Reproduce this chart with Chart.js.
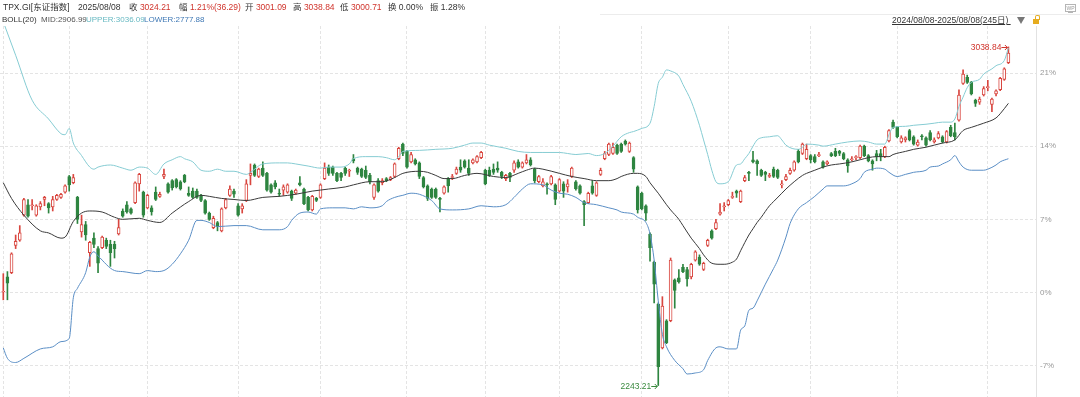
<!DOCTYPE html>
<html>
<head>
<meta charset="utf-8">
<title>TPX.GI BOLL(20)</title>
<script src="https://cdn.jsdelivr.net/npm/chart.js@4.4.1/dist/chart.umd.min.js"></script>
<style>
  body { margin: 0; background: #fff; }
  #wrap { position: relative; width: 1080px; height: 397px; overflow: hidden;
          font-family: "Liberation Sans", "Noto Sans CJK SC", sans-serif; }
  #c { position: absolute; left: 0; top: 0; }
  .t { position: absolute; white-space: nowrap; line-height: 1; font-size: 8.5px; color: #333; }
  .s { font-size: 8px; }
  .r { color: #d0342c; }
  .hr { position: absolute; left: 600px; top: 14px; width: 480px; height: 1px; background: #ececec; }
  .tri { position: absolute; left: 1017px; top: 17px; width: 0; height: 0;
         border-left: 4.5px solid transparent; border-right: 4.5px solid transparent; border-top: 7px solid #777; }
  .lockBody { position: absolute; left: 1033px; top: 19px; width: 6px; height: 5px; background: #e6ac1f; }
  .lockArc { position: absolute; left: 1035px; top: 15px; width: 3px; height: 4px;
             border: 1.2px solid #e6ac1f; border-bottom: none; border-radius: 2px 2px 0 0; }
  .wp { position: absolute; left: 1065px; top: 4px; width: 9px; height: 6px; border: 1px solid #b5b5b5;
        font-size: 5px; line-height: 6px; text-align: center; color: #999; }
  .wpStand { position: absolute; left: 1068px; top: 12px; width: 5px; height: 1px; background: #b5b5b5; }
</style>
</head>
<body>
<div id="wrap">
  <canvas id="c" width="1080" height="397"></canvas>

  <div class="t" style="left:3px;top:2.5px">TPX.GI[东证指数]</div>
  <div class="t" style="left:78px;top:2.5px">2025/08/08</div>
  <div class="t" style="left:129px;top:2.5px">收 <span class="r">3024.21</span></div>
  <div class="t" style="left:179px;top:2.5px">幅 <span class="r">1.21%(36.29)</span></div>
  <div class="t" style="left:245px;top:2.5px">开 <span class="r">3001.09</span></div>
  <div class="t" style="left:293px;top:2.5px">高 <span class="r">3038.84</span></div>
  <div class="t" style="left:340px;top:2.5px">低 <span class="r">3000.71</span></div>
  <div class="t" style="left:388px;top:2.5px">换 0.00%</div>
  <div class="t" style="left:430px;top:2.5px">振 1.28%</div>

  <div class="t s" style="left:2px;top:15.5px">BOLL(20)</div>
  <div class="t s" style="left:41px;top:15.5px;color:#555">MID:2906.99</div>
  <div class="t s" style="left:86px;top:15.5px;color:#67b9c2">UPPER:3036.09</div>
  <div class="t s" style="left:144px;top:15.5px;color:#3f78b5">LOWER:2777.88</div>

  <div class="hr"></div>
  <div class="t" style="left:892px;top:16px;text-decoration:underline">2024/08/08-2025/08/08(245日)&nbsp;</div>
  <div class="tri"></div>
  <div class="lockArc"></div>
  <div class="lockBody"></div>
  <div class="wp">WP</div>
  <div class="wpStand"></div>
</div>

<script>
// daily candles, % change vs. base (0% line), 2024/08/08 .. 2025/08/08
const openPct = [
  0.0, 1.5, 1.9, 4.5, 5.0, 7.4, 8.4, 8.3, 7.4, 8.2,
  8.9, 8.5, 8.2, 8.9, 9.1, 9.6, 11.1, 10.5, 9.1, 5.8,
  6.5, 3.8, 5.2, 4.2, 4.3, 5.0, 4.6, 4.6, 5.6, 7.8,
  8.4, 8.0, 8.6, 10.4, 9.6, 8.1, 8.1, 9.6, 9.2, 11.1,
  10.4, 10.7, 10.8, 10.6, 11.2, 9.5, 9.7, 9.7, 9.3, 8.8,
  7.6, 6.2, 6.7, 5.9, 8.1, 9.3, 9.7, 8.3, 8.0, 8.8,
  11.2, 12.2, 11.1, 11.9, 11.4, 10.3, 10.5, 9.5, 9.8, 9.6,
  9.7, 9.5, 10.5, 9.9, 9.1, 7.9, 9.0, 9.1, 10.9, 12.0,
  12.0, 11.4, 11.4, 11.9, 11.6, 12.8, 11.9, 11.8, 11.7, 11.2,
  9.1, 10.7, 10.5, 10.9, 10.8, 11.1, 12.8, 14.2, 13.5, 12.5,
  12.7, 12.4, 11.0, 10.2, 9.9, 9.9, 9.0, 9.5, 10.9, 11.0,
  11.4, 12.0, 12.6, 11.9, 12.4, 12.5, 12.9, 11.7, 11.7, 11.8,
  11.9, 11.5, 10.9, 11.4, 11.7, 12.5, 12.0, 12.4, 12.7, 11.8,
  10.6, 10.2, 10.4, 10.4, 10.3, 9.7, 10.4, 10.1, 11.1, 10.6,
  10.2, 8.7, 8.6, 10.2, 9.3, 11.3, 12.8, 13.2, 13.3, 14.1,
  14.2, 14.5, 13.5, 12.9, 10.1, 9.5, 8.3, 5.6, 2.9, -1.1,
  -5.3, -2.7, -2.7, 1.2, 1.4, 2.4, 2.2, 1.5, 3.1, 3.4,
  2.2, 4.5, 5.9, 6.1, 7.5, 8.2, 8.4, 9.1, 9.7, 8.7,
  10.7, 11.5, 12.7, 12.6, 11.7, 11.5, 11.1, 11.8, 11.7, 10.3,
  10.8, 11.4, 11.7, 13.5, 13.3, 12.8, 13.1, 13.0, 13.1, 12.5,
  12.3, 13.3, 13.5, 13.5, 13.3, 12.7, 12.7, 12.9, 12.9, 14.0,
  13.1, 12.6, 13.3, 13.3, 13.0, 14.5, 16.3, 15.8, 14.4, 14.6,
  15.5, 14.9, 14.1, 15.0, 14.8, 15.3, 14.4, 14.8, 14.9, 14.4,
  15.8, 15.3, 16.5, 20.0, 20.6, 20.1, 18.4, 18.2, 18.9, 19.6,
  18.0, 19.0, 19.4, 20.4, 22.0
];
const closePct = [
  0.1, 0.9, 3.7, 4.9, 5.7, 8.9, 7.3, 8.4, 8.3, 8.5,
  9.1, 8.1, 8.9, 9.3, 9.4, 10.2, 10.3, 11.0, 7.0, 6.5,
  5.5, 4.8, 4.6, 2.8, 5.3, 4.4, 3.8, 4.2, 6.2, 7.3,
  7.7, 7.6, 10.5, 11.3, 7.4, 9.3, 7.7, 8.9, 9.4, 11.3,
  9.6, 10.0, 10.1, 9.9, 10.6, 9.3, 9.1, 9.1, 8.8, 7.6,
  7.0, 7.1, 6.3, 8.0, 8.9, 9.9, 9.4, 7.4, 8.3, 10.4,
  11.4, 11.2, 11.8, 11.2, 9.8, 9.6, 10.1, 9.4, 10.1, 10.3,
  9.0, 9.8, 10.3, 8.5, 7.9, 9.2, 8.8, 10.3, 11.9, 11.4,
  11.4, 10.7, 11.0, 11.4, 11.7, 12.6, 11.5, 11.1, 11.0, 10.6,
  10.3, 9.7, 10.7, 10.7, 11.0, 12.3, 13.8, 13.3, 12.0, 13.2,
  12.3, 11.1, 10.1, 9.0, 9.1, 9.1, 8.9, 10.1, 10.2, 11.1,
  11.8, 11.7, 12.0, 11.4, 12.7, 13.0, 13.4, 10.4, 11.2, 11.5,
  11.7, 11.1, 11.2, 11.0, 12.4, 12.0, 12.4, 12.7, 12.2, 10.7,
  11.1, 10.6, 10.3, 11.1, 8.9, 10.8, 9.7, 10.4, 11.9, 9.9,
  9.5, 8.4, 9.5, 9.5, 10.5, 11.7, 13.3, 14.2, 13.9, 13.3,
  13.5, 14.2, 14.3, 11.8, 7.9, 8.0, 7.6, 4.3, 0.8, -7.1,
  -1.3, -4.8, 3.1, 0.2, 1.0, 2.0, 1.3, 2.7, 3.9, 2.7,
  2.8, 5.0, 5.2, 6.7, 7.7, 8.3, 8.8, 9.2, 9.5, 9.7,
  11.0, 11.4, 12.5, 12.3, 11.2, 11.3, 11.2, 11.1, 11.0, 10.4,
  11.1, 11.7, 12.5, 12.5, 14.2, 13.7, 12.7, 12.5, 13.2, 12.0,
  12.5, 13.1, 13.1, 13.3, 12.8, 12.1, 12.8, 13.0, 14.0, 13.1,
  12.6, 12.3, 13.0, 13.0, 13.9, 15.5, 15.8, 14.9, 14.8, 14.8,
  14.6, 14.2, 14.4, 14.9, 14.1, 14.6, 14.6, 15.2, 14.4, 15.4,
  15.0, 14.9, 18.9, 20.9, 20.1, 19.0, 18.1, 18.5, 19.5, 19.7,
  18.5, 19.3, 20.5, 21.4, 22.9
];
const highPct = [
  1.8, 2.0, 3.8, 5.5, 6.4, 9.0, 8.9, 8.9, 8.4, 8.7,
  9.2, 8.6, 9.2, 9.4, 9.5, 10.3, 11.2, 11.3, 9.2, 7.4,
  6.8, 4.9, 5.7, 4.4, 5.4, 5.2, 5.0, 4.9, 7.0, 8.0,
  8.7, 8.1, 10.6, 11.4, 9.7, 9.4, 8.3, 10.1, 9.6, 11.8,
  10.5, 10.8, 10.9, 10.7, 11.3, 10.1, 10.0, 9.9, 9.4, 8.9,
  7.7, 7.3, 6.8, 8.1, 9.0, 10.2, 9.9, 8.5, 8.5, 10.8,
  12.3, 12.3, 11.9, 12.5, 11.5, 10.4, 10.7, 9.9, 10.3, 10.4,
  9.8, 9.9, 11.1, 10.0, 9.2, 9.3, 9.1, 10.4, 12.4, 12.2,
  12.1, 11.5, 11.5, 12.0, 11.8, 13.2, 12.0, 11.9, 12.1, 11.4,
  10.4, 10.9, 10.9, 11.0, 11.1, 12.4, 13.9, 14.3, 13.6, 13.4,
  12.8, 12.5, 11.1, 10.3, 10.0, 10.0, 9.1, 10.2, 11.0, 11.3,
  12.0, 12.7, 12.7, 12.7, 12.8, 13.1, 13.5, 11.8, 12.0, 12.3,
  12.5, 11.6, 11.3, 11.5, 12.6, 12.7, 12.5, 13.2, 12.9, 11.9,
  11.2, 10.9, 10.5, 11.2, 10.4, 10.9, 10.6, 10.8, 12.0, 10.7,
  10.3, 8.8, 9.6, 10.7, 10.6, 11.9, 13.5, 14.3, 14.3, 14.2,
  14.3, 14.6, 14.4, 13.0, 10.2, 9.6, 8.4, 5.7, 3.0, -1.0,
  -0.4, -2.6, 3.3, 1.3, 2.2, 2.7, 2.4, 2.8, 4.0, 3.6,
  2.9, 5.1, 6.0, 7.0, 8.5, 8.6, 8.9, 9.6, 9.8, 9.8,
  11.2, 11.6, 13.5, 12.7, 11.8, 11.6, 11.4, 12.0, 11.8, 10.7,
  11.3, 11.9, 12.6, 13.7, 14.3, 14.2, 13.2, 13.2, 13.4, 12.6,
  12.6, 13.4, 13.8, 13.6, 13.4, 12.8, 13.0, 13.1, 14.1, 14.1,
  13.2, 12.7, 13.6, 13.7, 14.0, 15.6, 16.5, 15.9, 15.0, 14.9,
  15.6, 15.0, 14.6, 15.1, 14.9, 15.5, 14.8, 15.4, 15.0, 15.5,
  16.0, 16.2, 19.4, 21.3, 20.8, 20.2, 18.5, 18.7, 19.7, 20.3,
  18.6, 19.4, 20.6, 21.5, 23.5
];
const lowPct = [
  -0.7, -0.7, 1.8, 4.2, 4.9, 7.3, 7.2, 7.9, 7.3, 7.9,
  8.3, 7.6, 7.8, 8.8, 9.0, 9.5, 9.7, 10.4, 6.6, 5.3,
  5.0, 2.5, 4.3, 1.9, 4.2, 4.2, 2.5, 3.3, 5.5, 7.2,
  7.6, 7.5, 8.5, 9.7, 7.2, 8.0, 7.4, 8.8, 9.1, 10.9,
  9.5, 9.8, 10.0, 9.8, 10.5, 9.2, 9.0, 9.0, 8.7, 7.5,
  6.9, 6.1, 5.9, 5.8, 8.0, 9.2, 9.1, 7.3, 7.6, 8.7,
  10.3, 11.1, 11.0, 11.1, 9.7, 9.5, 9.9, 9.2, 9.3, 9.5,
  8.8, 9.4, 10.2, 8.4, 7.8, 7.8, 8.7, 9.0, 10.8, 11.2,
  11.2, 10.6, 10.7, 11.2, 11.1, 12.4, 11.3, 11.0, 10.9, 10.4,
  8.9, 9.6, 10.3, 10.6, 10.7, 11.0, 12.7, 13.1, 11.9, 12.4,
  12.2, 10.9, 10.0, 8.8, 9.0, 9.0, 7.7, 9.4, 9.6, 10.8,
  11.3, 11.5, 11.9, 11.2, 12.3, 12.4, 12.8, 10.3, 11.1, 11.3,
  11.5, 10.9, 10.7, 10.6, 11.5, 11.9, 11.9, 12.3, 12.1, 10.5,
  10.5, 10.1, 9.4, 10.3, 8.4, 9.6, 9.1, 9.6, 11.0, 9.8,
  9.4, 6.4, 8.5, 9.4, 9.2, 11.2, 12.7, 13.1, 13.2, 13.2,
  13.4, 14.1, 13.4, 11.5, 7.6, 7.9, 6.9, 3.0, -1.0, -8.9,
  -5.4, -4.9, -2.8, -1.5, 0.9, 1.9, 0.6, 1.3, 3.0, 2.6,
  2.1, 4.4, 5.1, 6.0, 7.4, 7.8, 8.3, 9.0, 9.1, 8.6,
  10.6, 10.7, 12.4, 11.2, 11.1, 10.7, 11.0, 11.0, 10.9, 10.0,
  10.7, 11.3, 11.6, 12.4, 13.2, 12.7, 12.4, 12.4, 13.0, 11.9,
  12.2, 13.0, 13.0, 13.1, 12.7, 11.5, 12.6, 12.7, 12.8, 13.0,
  12.5, 11.7, 12.6, 12.6, 12.9, 14.4, 15.7, 14.8, 14.3, 14.4,
  14.5, 14.1, 14.0, 14.6, 14.0, 14.5, 14.3, 14.7, 14.3, 14.3,
  14.9, 14.6, 16.4, 19.9, 20.0, 18.9, 17.8, 18.0, 18.8, 19.3,
  17.3, 18.8, 19.3, 20.3, 21.9
];

// BOLL(20): [day index, %]
const upperBand = [
  [0, 25.9], [3, 22.7], [7, 18.4], [11, 16.6], [14, 15.2], [15, 15.1], [16, 15.7], [17, 14.3],
  [19, 13.1], [21, 12.0], [22, 11.8], [23, 12.0], [26, 12.2], [29, 11.9], [31, 11.7], [33, 12.0],
  [35, 11.9], [37, 11.3], [39, 12.3], [41, 12.7], [43, 13.0], [44, 12.8], [46, 12.5], [48, 11.7],
  [50, 11.6], [52, 11.8], [54, 11.6], [56, 11.6], [59, 11.3], [60, 11.5], [63, 12.3], [67, 12.4],
  [69, 12.4], [71, 12.3], [74, 12.1], [77, 11.9], [79, 12.0], [82, 12.0], [84, 12.3], [85, 12.8],
  [88, 13.0], [91, 13.0], [93, 12.9], [95, 12.7], [96, 13.0], [97, 13.5], [101, 13.6], [105, 13.7],
  [109, 13.8], [112, 14.1], [114, 14.3], [116, 14.3], [118, 14.1], [122, 13.8], [125, 13.5], [128, 13.4],
  [131, 13.4], [135, 13.4], [137, 13.3], [139, 13.2], [142, 13.3], [144, 13.1], [146, 13.3], [148, 14.0],
  [150, 14.9], [152, 15.3], [153, 15.4], [155, 15.7], [157, 16.2], [158, 17.8], [159, 20.0], [160, 20.6],
  [161, 21.3], [162, 21.2], [164, 20.7], [165, 19.9], [167, 18.3], [169, 16.0], [170, 14.6], [171, 13.2],
  [172, 11.7], [173, 10.6], [174, 10.4], [176, 10.6], [178, 12.2], [179, 12.3], [180, 12.8], [181, 13.3],
  [182, 14.0], [183, 14.6], [184, 14.8], [186, 14.9], [188, 15.0], [189, 14.6], [190, 14.1], [193, 13.7],
  [194, 13.9], [195, 14.2], [198, 14.1], [199, 14.0], [202, 14.2], [205, 14.4], [208, 14.5], [210, 14.4],
  [212, 14.2], [214, 14.2], [215, 15.1], [216, 15.8], [219, 15.9], [221, 16.0], [224, 16.1], [226, 16.2],
  [228, 16.3], [230, 16.3], [231, 16.6], [232, 17.8], [233, 18.7], [234, 19.6], [235, 20.1], [237, 20.4],
  [238, 20.9], [240, 21.4], [241, 21.7], [243, 22.2], [244, 23.4]
];
const midBand = [
  [0, 10.5], [2, 9.0], [5, 7.4], [9, 5.9], [11, 5.7], [14, 5.2], [15, 5.3], [17, 6.8],
  [19, 7.6], [21, 7.8], [24, 7.7], [27, 7.2], [29, 7.0], [33, 7.1], [35, 6.9], [38, 6.7],
  [41, 7.6], [45, 8.7], [48, 9.3], [50, 9.2], [53, 9.0], [56, 8.9], [59, 8.8], [63, 9.1],
  [67, 9.2], [71, 9.4], [75, 9.7], [77, 9.8], [79, 9.9], [83, 10.1], [85, 10.3], [89, 10.6],
  [92, 10.6], [95, 11.0], [97, 11.4], [101, 11.6], [103, 11.5], [105, 11.2], [107, 10.9], [109, 10.9],
  [112, 11.2], [115, 11.4], [119, 11.1], [122, 11.0], [125, 11.4], [127, 11.7], [129, 11.9], [131, 11.8],
  [135, 11.4], [138, 11.1], [141, 10.9], [144, 10.7], [147, 10.7], [149, 10.9], [150, 11.1], [153, 11.4],
  [154, 11.4], [156, 11.1], [157, 10.5], [159, 9.5], [161, 8.4], [162, 7.9], [164, 7.0], [165, 6.4],
  [167, 5.2], [169, 4.2], [170, 3.6], [172, 2.8], [174, 2.7], [175, 2.7], [177, 2.9], [178, 3.2],
  [179, 4.0], [181, 5.5], [182, 6.1], [183, 6.7], [184, 7.2], [186, 8.3], [187, 8.7], [189, 9.5],
  [190, 9.9], [192, 10.6], [194, 11.2], [195, 11.4], [197, 11.7], [199, 12.0], [201, 12.2], [203, 12.3],
  [206, 12.5], [208, 12.7], [210, 12.9], [212, 13.0], [215, 13.0], [216, 13.2], [219, 13.5], [221, 13.7],
  [224, 13.9], [226, 14.1], [228, 14.3], [231, 14.6], [233, 15.5], [235, 15.8], [238, 16.2], [241, 16.7],
  [242, 17.1], [244, 18.1]
];
const lowerBand = [
  [0, -5.3], [1, -6.3], [3, -6.7], [5, -6.3], [9, -5.4], [12, -5.2], [14, -4.7], [16, -4.4],
  [17, -0.5], [18, 0.4], [20, 1.9], [21, 3.4], [22, 3.9], [23, 3.5], [27, 2.1], [29, 2.0],
  [33, 1.8], [35, 2.1], [37, 2.0], [39, 2.1], [41, 2.7], [43, 3.7], [45, 5.0], [47, 6.9],
  [48, 6.9], [50, 6.7], [52, 6.3], [56, 6.4], [59, 6.4], [63, 6.0], [67, 6.0], [69, 6.3],
  [70, 6.9], [72, 7.6], [74, 7.7], [76, 7.5], [77, 8.0], [80, 8.1], [83, 8.1], [85, 8.0],
  [87, 8.2], [89, 8.1], [92, 8.3], [93, 8.7], [95, 9.1], [97, 9.3], [99, 9.5], [101, 9.4],
  [104, 8.8], [106, 8.0], [109, 7.9], [113, 8.0], [116, 8.3], [119, 8.2], [122, 8.4], [124, 9.1],
  [126, 9.9], [128, 10.4], [131, 10.3], [133, 9.8], [135, 9.5], [137, 9.4], [139, 9.1], [141, 8.6],
  [144, 8.4], [147, 8.1], [149, 7.9], [150, 7.7], [153, 7.5], [154, 7.2], [156, 6.7], [157, 5.6],
  [158, 3.1], [159, -0.8], [160, -4.0], [161, -5.2], [163, -6.5], [165, -7.3], [166, -7.8], [168, -7.7],
  [170, -7.4], [171, -6.5], [173, -5.3], [174, -5.2], [176, -5.4], [178, -5.4], [179, -3.6], [180, -3.2],
  [181, -1.7], [182, -1.5], [183, -0.8], [185, 0.8], [187, 2.3], [188, 3.1], [190, 5.3], [191, 6.6],
  [193, 8.0], [195, 8.6], [197, 9.2], [199, 9.9], [200, 10.2], [204, 10.2], [206, 10.4], [208, 10.9],
  [209, 11.5], [211, 11.8], [212, 11.9], [214, 11.8], [215, 11.5], [217, 11.1], [219, 11.3], [221, 11.5],
  [224, 11.7], [225, 12.0], [227, 12.1], [228, 12.3], [230, 12.7], [231, 13.1], [232, 12.5], [233, 12.0],
  [235, 11.7], [238, 11.7], [239, 11.8], [241, 12.2], [242, 12.5], [244, 12.8]
];

// first trading day of each month (vertical grid)
const monthStarts = [0, 16, 35, 57, 77, 98, 117, 135, 155, 176, 196, 217, 239];
const yTicks = [-7, 0, 7, 14, 21];
const lowLabel = "2243.21";
const highLabel = "3038.84";

const RED = "#d9463f";
const GREEN = "#2e8540";
const FONT = '"Liberation Sans", "Noto Sans CJK SC", sans-serif';

const days = openPct.map((_, i) => i);
const isUp = days.map((i) => closePct[i] >= openPct[i]);

const lowIdx = lowPct.indexOf(Math.min(...lowPct));
const highIdx = highPct.indexOf(Math.max(...highPct));
const markers = [
  { index: lowIdx, value: lowPct[lowIdx], label: lowLabel, color: "#3a8a3f" },
  { index: highIdx, value: highPct[highIdx], label: highLabel, color: "#d0342c" }
];

const markerPlugin = {
  id: "extremeMarkers",
  afterDatasetsDraw(chart) {
    const { ctx, scales: { x, y } } = chart;
    ctx.save();
    ctx.font = "8.5px " + FONT;
    ctx.textAlign = "right";
    ctx.textBaseline = "middle";
    markers.forEach((m) => {
      const px = x.getPixelForValue(m.index);
      const py = Math.round(y.getPixelForValue(m.value)) + 0.5;
      ctx.fillStyle = m.color;
      ctx.strokeStyle = m.color;
      ctx.lineWidth = 1;
      ctx.fillText(m.label, px - 7, py);
      ctx.beginPath();
      ctx.moveTo(px - 7, py);
      ctx.lineTo(px - 1, py);
      ctx.moveTo(px - 3.5, py - 2.5);
      ctx.lineTo(px - 1, py);
      ctx.lineTo(px - 3.5, py + 2.5);
      ctx.stroke();
    });
    ctx.restore();
  }
};

const bandLine = (pts, color) => ({
  type: "line",
  data: pts.map(([i, v]) => ({ x: i, y: v })),
  borderColor: color,
  borderWidth: 1,
  pointRadius: 0,
  fill: false,
  cubicInterpolationMode: "monotone",
  order: 0
});

Chart.defaults.font.family = FONT;

new Chart(document.getElementById("c"), {
  type: "bar",
  data: {
    datasets: [
      bandLine(upperBand, "#86ccd3"),
      bandLine(midBand, "#3a3a3a"),
      bandLine(lowerBand, "#5a8ec5"),
      {
        label: "body",
        data: days.map((i) => ({ x: i, y: [openPct[i], closePct[i]] })),
        backgroundColor: days.map((i) => (isUp[i] ? "#ffffff" : GREEN)),
        borderColor: days.map((i) => (isUp[i] ? RED : GREEN)),
        borderWidth: 1,
        borderSkipped: false,
        barThickness: 3,
        grouped: false,
        order: 1
      },
      {
        label: "wick",
        data: days.map((i) => ({ x: i, y: [lowPct[i], highPct[i]] })),
        backgroundColor: days.map((i) => (isUp[i] ? RED : GREEN)),
        borderWidth: 0,
        barThickness: 1,
        grouped: false,
        order: 2
      }
    ]
  },
  options: {
    responsive: false,
    devicePixelRatio: 1,
    animation: false,
    layout: { padding: { top: 26, right: 0, bottom: 0, left: 0 } },
    plugins: { legend: { display: false }, tooltip: { enabled: false } },
    scales: {
      x: {
        type: "linear",
        min: -0.8,
        max: 250.7,
        offset: false,
        afterBuildTicks: (s) => { s.ticks = monthStarts.map((v) => ({ value: v })); },
        afterFit: (s) => { s.height = 0; s.paddingLeft = 0; s.paddingRight = 0; },
        ticks: { display: false },
        grid: { color: "#e4e4e4", drawTicks: false, offset: false },
        border: { display: false, dash: [3, 2] }
      },
      y: {
        position: "right",
        min: -10.0,
        max: 25.5,
        afterBuildTicks: (s) => { s.ticks = yTicks.map((v) => ({ value: v })); },
        afterFit: (s) => { s.width = 44; s.paddingTop = 0; s.paddingBottom = 0; },
        ticks: {
          color: "#999",
          padding: 4,
          font: { size: 8, family: FONT },
          callback: (v) => v + "%"
        },
        grid: { color: "#e4e4e4", drawTicks: false },
        border: { display: true, color: "#e2e2e2", dash: [3, 2] }
      }
    }
  },
  plugins: [markerPlugin]
});
</script>
</body>
</html>
